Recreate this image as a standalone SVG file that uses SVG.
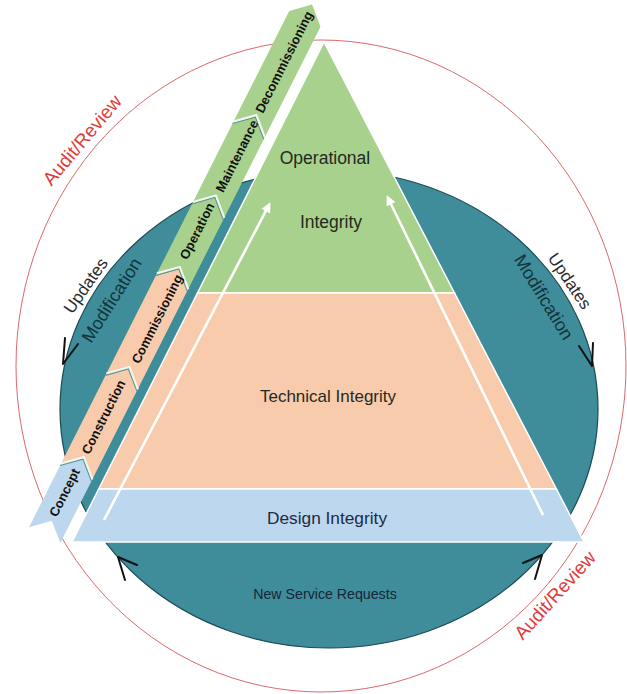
<svg xmlns="http://www.w3.org/2000/svg" width="627" height="694" viewBox="0 0 627 694">
<style>
  .lbl{font-family:"Liberation Sans",Arial,sans-serif;}
  .ph{font-family:"Liberation Sans",Arial,sans-serif;font-size:13px;font-weight:bold;fill:#111;text-anchor:middle;}
  .pyr{font-family:"Liberation Sans",Arial,sans-serif;fill:#1f2a22;text-anchor:middle;}
  .audit{font-family:"Liberation Sans",Arial,sans-serif;font-size:19px;fill:#e23b3b;text-anchor:middle;}
  .side{font-family:"Liberation Sans",Arial,sans-serif;text-anchor:middle;}
  .green{fill:#a9d18e;}
  .peach{fill:#f8cbad;}
  .blue{fill:#bdd7ee;}
  .sep{fill:none;stroke:#f2f6ef;stroke-width:2.5;}
  .sep2{fill:none;stroke:#5e978a;stroke-width:1.1;}
  .dark{fill:none;stroke:#111;stroke-width:2;stroke-linecap:round;stroke-linejoin:round;}
  .white{fill:none;stroke:#ffffff;stroke-width:2.6;}
</style>
<defs>
  <marker id="wh" markerWidth="10" markerHeight="10" refX="7" refY="5" orient="auto" markerUnits="userSpaceOnUse">
    <path d="M0,0 L10,5 L0,10 Z" fill="#ffffff"/>
  </marker>
</defs>
<rect width="627" height="694" fill="#ffffff"/>

<g id="audit-circle">
  <ellipse cx="321" cy="366" rx="305" ry="326" fill="none" stroke="#d8575a" stroke-width="0.9"/>
</g>

<g id="lifecycle-ellipse">
  <ellipse cx="329" cy="409" rx="269" ry="239" fill="#3f8c9a" stroke="#1d4a52" stroke-width="1.2"/>
</g>

<g id="pyramid">
  <g id="operational-integrity">
    <polygon class="green" points="324,42 454.5,293 197.5,293" stroke="#ffffff" stroke-width="1.5"/>
    <text class="pyr" x="325" y="164" font-size="17.5">Operational</text>
    <text class="pyr" x="331" y="228" font-size="17.5">Integrity</text>
  </g>
  <g id="technical-integrity">
    <polygon class="peach" points="197.5,293 454.5,293 556.4,489 98.7,489" stroke="#ffffff" stroke-width="1.5"/>
    <text class="pyr" x="328" y="402" font-size="17">Technical Integrity</text>
  </g>
  <g id="design-integrity">
    <polygon class="blue" points="98.7,489 556.4,489 584,542 72,542" stroke="#ffffff" stroke-width="1.5"/>
    <text class="pyr" x="327" y="524" font-size="17.3" fill="#1e2b45" style="fill:#1e2b45">Design Integrity</text>
  </g>
</g>

<g id="new-service-requests">
  <text class="lbl" x="325" y="599" font-size="14.2" fill="#172638" text-anchor="middle">New Service Requests</text>
</g>

<g id="phases" transform="matrix(-0.4501,0.8930,-0.8930,-0.4501,324,42)">
  <polygon id="decommissioning-shape" class="green" points="-12,10 -28,27.5 -12,45 112,45 96,27.5 112,10"/>
  <polygon id="maintenance-shape" class="green" points="112,10 96,27.5 112,45 202,45 186,27.5 202,10"/>
  <polygon id="operation-shape" class="green" points="202,10 186,27.5 202,45 282,45 266,27.5 282,10"/>
  <polygon id="commissioning-shape" class="peach" points="282,10 266,27.5 282,45 394,45 378,27.5 394,10"/>
  <polygon id="construction-shape" class="peach" points="394,10 378,27.5 394,45 495,45 479,27.5 495,10"/>
  <polygon id="concept-shape" class="blue" points="495,10 479,27.5 495,45 566,45 550,27.5 566,10"/>
  <polyline class="sep" points="112,10 96,27.5 112,45"/>
  <polyline class="sep2" points="114,10 98,27.5 114,45"/>
  <polyline class="sep" points="202,10 186,27.5 202,45"/>
  <polyline class="sep2" points="204,10 188,27.5 204,45"/>
  <polyline class="sep" points="282,10 266,27.5 282,45"/>
  <polyline class="sep2" points="284,10 268,27.5 284,45"/>
  <polyline class="sep" points="394,10 378,27.5 394,45"/>
  <polyline class="sep2" points="396,10 380,27.5 396,45"/>
  <polyline class="sep" points="495,10 479,27.5 495,45"/>
  <polyline class="sep2" points="497,10 481,27.5 497,45"/>
</g>

<g id="phase-labels">
  <g id="decommissioning"><text class="ph" transform="translate(284,62) rotate(-63.25)" dy="0.35em">Decommissioning</text></g>
  <g id="maintenance"><text class="ph" transform="translate(237,156) rotate(-63.25)" dy="0.35em">Maintenance</text></g>
  <g id="operation"><text class="ph" transform="translate(197,231) rotate(-63.25)" dy="0.35em">Operation</text></g>
  <g id="commissioning"><text class="ph" transform="translate(157,319) rotate(-63.25)" dy="0.35em">Commissioning</text></g>
  <g id="construction"><text class="ph" transform="translate(103.5,417) rotate(-63.25)" dy="0.35em">Construction</text></g>
  <g id="concept"><text class="ph" transform="translate(64.5,492.5) rotate(-63.25)" dy="0.35em">Concept</text></g>
</g>

<g id="connectors">
  <line class="white" x1="104" y1="520" x2="269" y2="205" marker-end="url(#wh)"/>
  <line class="white" x1="543" y1="515" x2="388" y2="198" marker-end="url(#wh)"/>
  <polyline class="dark" points="65,338 63,364 78,344"/>
  <polyline class="dark" points="579,346 592,366 593,343"/>
  <polyline class="dark" points="125,580 118,557 137,565"/>
  <polyline class="dark" points="523,563 542,555 535,579"/>
</g>

<g id="side-labels">
  <text class="side" transform="translate(85.5,285.5) rotate(-55)" dy="0.35em" font-size="17" fill="#2b2b2b">Updates</text>
  <text class="side" transform="translate(111.5,300) rotate(-57.8)" dy="0.35em" font-size="18" fill="#14323a">Modification</text>
  <text class="side" transform="translate(570,281) rotate(56)" dy="0.35em" font-size="17" fill="#2b2b2b">Updates</text>
  <text class="side" transform="translate(544,297) rotate(58.5)" dy="0.35em" font-size="18" fill="#14323a">Modification</text>
</g>

<g id="audit-labels">
  <text class="audit" transform="translate(82,140) rotate(-50)" dy="0.35em">Audit/Review</text>
  <text class="audit" transform="translate(555,595) rotate(-48)" dy="0.35em">Audit/Review</text>
</g>
</svg>
